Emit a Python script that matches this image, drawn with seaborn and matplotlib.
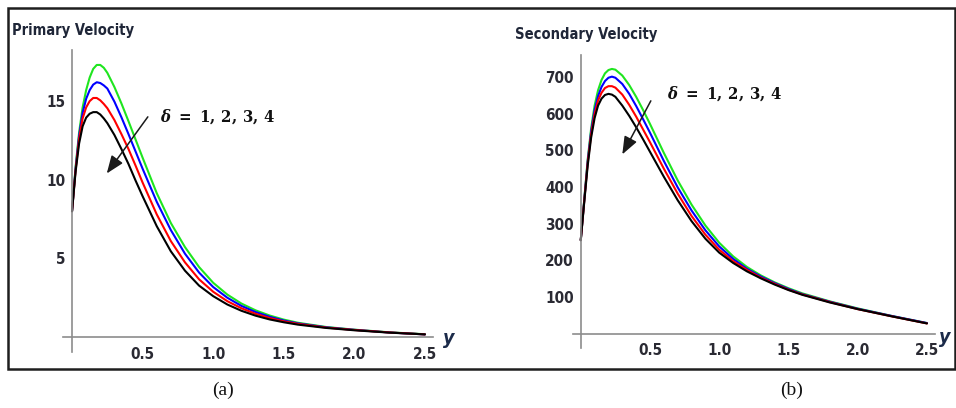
import numpy as np
import pandas as pd
import matplotlib
matplotlib.use("Agg")
import matplotlib.pyplot as plt
from matplotlib.patches import Rectangle
from matplotlib.ticker import FixedLocator, MultipleLocator, FormatStrFormatter
import seaborn as sns

# y positions shared by all curves
y_grid = [0.0, 0.025, 0.05, 0.075, 0.1, 0.125, 0.15, 0.175, 0.2, 0.225, 0.25,
          0.3, 0.35, 0.4, 0.45, 0.5, 0.6, 0.7, 0.8, 0.9, 1.0, 1.1, 1.2, 1.3,
          1.4, 1.5, 1.6, 1.8, 2.0, 2.25, 2.5]

deltas = [1, 2, 3, 4]
line_colors = ["#1fe51f", "#0000ff", "#ff0000", "#000000"]

# Primary velocity, one list per delta
primary_d1 = [8.0, 10.8, 13.0, 14.6, 15.7, 16.5, 17.05, 17.3, 17.3, 17.12, 16.8,
              15.9, 14.85, 13.72, 12.56, 11.4, 9.15, 7.25, 5.72, 4.45, 3.45, 2.7,
              2.13, 1.7, 1.37, 1.11, 0.91, 0.64, 0.47, 0.3, 0.18]
primary_d2 = [8.0, 10.7, 12.8, 14.25, 15.15, 15.7, 16.05, 16.2, 16.15, 16.0,
              15.8, 14.97, 13.97, 12.9, 11.8, 10.7, 8.6, 6.8, 5.3, 4.1, 3.18,
              2.5, 1.98, 1.59, 1.29, 1.05, 0.87, 0.62, 0.46, 0.29, 0.17]
primary_d3 = [8.0, 10.6, 12.6, 13.9, 14.6, 15.0, 15.2, 15.2, 15.05, 14.82, 14.55,
              13.8, 12.9, 11.95, 10.9, 9.82, 7.8, 6.1, 4.75, 3.67, 2.88, 2.28,
              1.83, 1.48, 1.21, 1.0, 0.84, 0.6, 0.45, 0.29, 0.17]
primary_d4 = [8.0, 10.5, 12.3, 13.4, 13.95, 14.2, 14.3, 14.3, 14.15, 13.9, 13.6,
              12.85, 11.95, 11.0, 9.95, 8.95, 7.05, 5.45, 4.22, 3.27, 2.6, 2.07,
              1.67, 1.36, 1.12, 0.94, 0.79, 0.58, 0.43, 0.28, 0.17]

# Secondary velocity, one list per delta
secondary_d1 = [255, 365, 475, 560, 622, 664, 692, 710, 719, 722, 720, 704, 678,
                646, 610, 572, 493, 418, 352, 295, 248, 211, 182, 159, 140, 124,
                110, 88, 69, 48, 29]
secondary_d2 = [255, 363, 470, 552, 610, 648, 673, 689, 698, 701, 698, 681, 654,
                621, 585, 548, 471, 399, 336, 282, 238, 204, 177, 156, 138, 122,
                108, 87, 68, 48, 29]
secondary_d3 = [255, 361, 465, 544, 599, 636, 657, 670, 675, 675, 671, 652, 624,
                592, 557, 522, 450, 382, 321, 270, 229, 198, 174, 153, 136, 120,
                107, 86, 67, 47, 28]
secondary_d4 = [255, 358, 458, 535, 588, 622, 641, 651, 654, 652, 646, 622, 594,
                563, 530, 496, 428, 364, 307, 259, 221, 193, 170, 151, 134, 119,
                106, 85, 67, 47, 28]

primary_ticks = [5, 10, 15]
secondary_ticks = [100, 200, 300, 400, 500, 600, 700]
x_ticks = [0.5, 1.0, 1.5, 2.0, 2.5]


def long_frame(series):
    rows = []
    for d, vals in zip(deltas, series):
        for yy, v in zip(y_grid, vals):
            rows.append({"y": yy, "value": v, "delta": d})
    return pd.DataFrame(rows)


primary_df = long_frame([primary_d1, primary_d2, primary_d3, primary_d4])
secondary_df = long_frame([secondary_d1, secondary_d2, secondary_d3, secondary_d4])

sns.set_theme(style="white")
plt.rcParams["font.family"] = ["DejaVu Sans"]
plt.rcParams["font.stretch"] = "condensed"
plt.rcParams["mathtext.fontset"] = "custom"
plt.rcParams["mathtext.rm"] = "DejaVu Serif:bold"
plt.rcParams["mathtext.it"] = "DejaVu Serif:italic:bold"
plt.rcParams["mathtext.bf"] = "DejaVu Serif:bold"

W, H = 956, 408
fig = plt.figure(figsize=(W / 100, H / 100), dpi=100)


def px_axes(left, top, right, bottom):
    return fig.add_axes([left / W, 1 - bottom / H, (right - left) / W, (bottom - top) / H])


axis_gray = "#8c8c8c"
label_color = "#2a2a33"
palette = dict(zip(deltas, line_colors))


def style_axes(ax, yticks, yminor, xlim, ylim):
    ax.set_xlim(*xlim)
    ax.set_ylim(*ylim)
    ax.set_facecolor("none")
    for side in ("top", "right"):
        ax.spines[side].set_visible(False)
    for side in ("left", "bottom"):
        ax.spines[side].set_position(("data", 0))
        ax.spines[side].set_color(axis_gray)
        ax.spines[side].set_linewidth(1.2)
    ax.xaxis.set_major_locator(FixedLocator(x_ticks))
    ax.xaxis.set_minor_locator(MultipleLocator(0.1))
    ax.xaxis.set_major_formatter(FormatStrFormatter("%.1f"))
    ax.yaxis.set_major_locator(FixedLocator(yticks))
    ax.yaxis.set_minor_locator(MultipleLocator(yminor))
    ax.yaxis.set_major_formatter(FormatStrFormatter("%d"))
    ax.tick_params(axis="x", which="major", direction="in", length=5, width=1,
                   color=axis_gray, pad=7, labelsize=11, labelcolor=label_color)
    ax.tick_params(axis="x", which="minor", direction="in", length=3, width=0.8,
                   color=axis_gray)
    ax.tick_params(axis="y", which="major", direction="inout", length=6, width=1,
                   color=axis_gray, pad=2, labelsize=11, labelcolor=label_color)
    ax.tick_params(axis="y", which="minor", direction="in", length=3, width=0.8,
                   color=axis_gray)
    for lab in ax.get_xticklabels() + ax.get_yticklabels():
        lab.set_fontweight("bold")
        lab.set_fontstretch("condensed")
    ax.set_xlabel("")
    ax.set_ylabel("")


delta_label = r"$\mathit{\delta}\mathbf{\ =\ 1,\,2,\,3,\,4}$"
arrow_style = dict(arrowstyle="-|>,head_length=0.9,head_width=0.35",
                   color="#1a1a1a", lw=1.1, shrinkA=0, shrinkB=0)

# Panel (a): primary velocity
ax1 = px_axes(63, 50, 433, 352)
sns.lineplot(data=primary_df, x="y", y="value", hue="delta", palette=palette,
             linewidth=1.5, legend=False, ax=ax1)
style_axes(ax1, primary_ticks, 1, (-0.064, 2.557), (-0.95, 18.25))
ax1.text(2.63, -0.1, "y", fontsize=14, fontweight="bold", style="italic",
         color="#1c2b4a", ha="left", va="center", clip_on=False)
ax1.annotate("", xy=(0.246, 10.4), xytext=(0.537, 14.0), arrowprops=arrow_style)
ax1.text(0.62, 14.0, delta_label, fontsize=12, color="#111111",
         ha="left", va="center")

# Panel (b): secondary velocity
ax2 = px_axes(573, 55, 935, 348)
sns.lineplot(data=secondary_df, x="y", y="value", hue="delta", palette=palette,
             linewidth=1.5, legend=False, ax=ax2)
style_axes(ax2, secondary_ticks, 20, (-0.056, 2.558), (-39, 760))
ax2.text(2.585, -10, "y", fontsize=14, fontweight="bold", style="italic",
         color="#1c2b4a", ha="left", va="center", clip_on=False)
ax2.annotate("", xy=(0.30, 489), xytext=(0.506, 635), arrowprops=arrow_style)
ax2.text(0.62, 655, delta_label, fontsize=12, color="#111111",
         ha="left", va="center")

# Panel titles
fig.text(12 / W, 1 - 30 / H, "Primary Velocity", fontsize=10.5, fontweight="bold",
         fontstretch="condensed", color="#1f2638", ha="left", va="center")
fig.text(515 / W, 1 - 34 / H, "Secondary Velocity", fontsize=10.5, fontweight="bold",
         fontstretch="condensed", color="#1f2638", ha="left", va="center")

# Frame around both panels
fig.add_artist(Rectangle((8 / W, 1 - 369 / H), 947 / W, 361 / H,
                         transform=fig.transFigure, fill=False,
                         edgecolor="#1e1e1e", linewidth=1.8))

# Panel captions
for cx, cap in ((223, "(a)"), (792, "(b)")):
    fig.text(cx / W, 1 - 390 / H, cap, fontsize=14, family="Liberation Serif",
             fontstretch="normal", color="#111111", ha="center", va="center")

fig.savefig("out.png", dpi=100)
